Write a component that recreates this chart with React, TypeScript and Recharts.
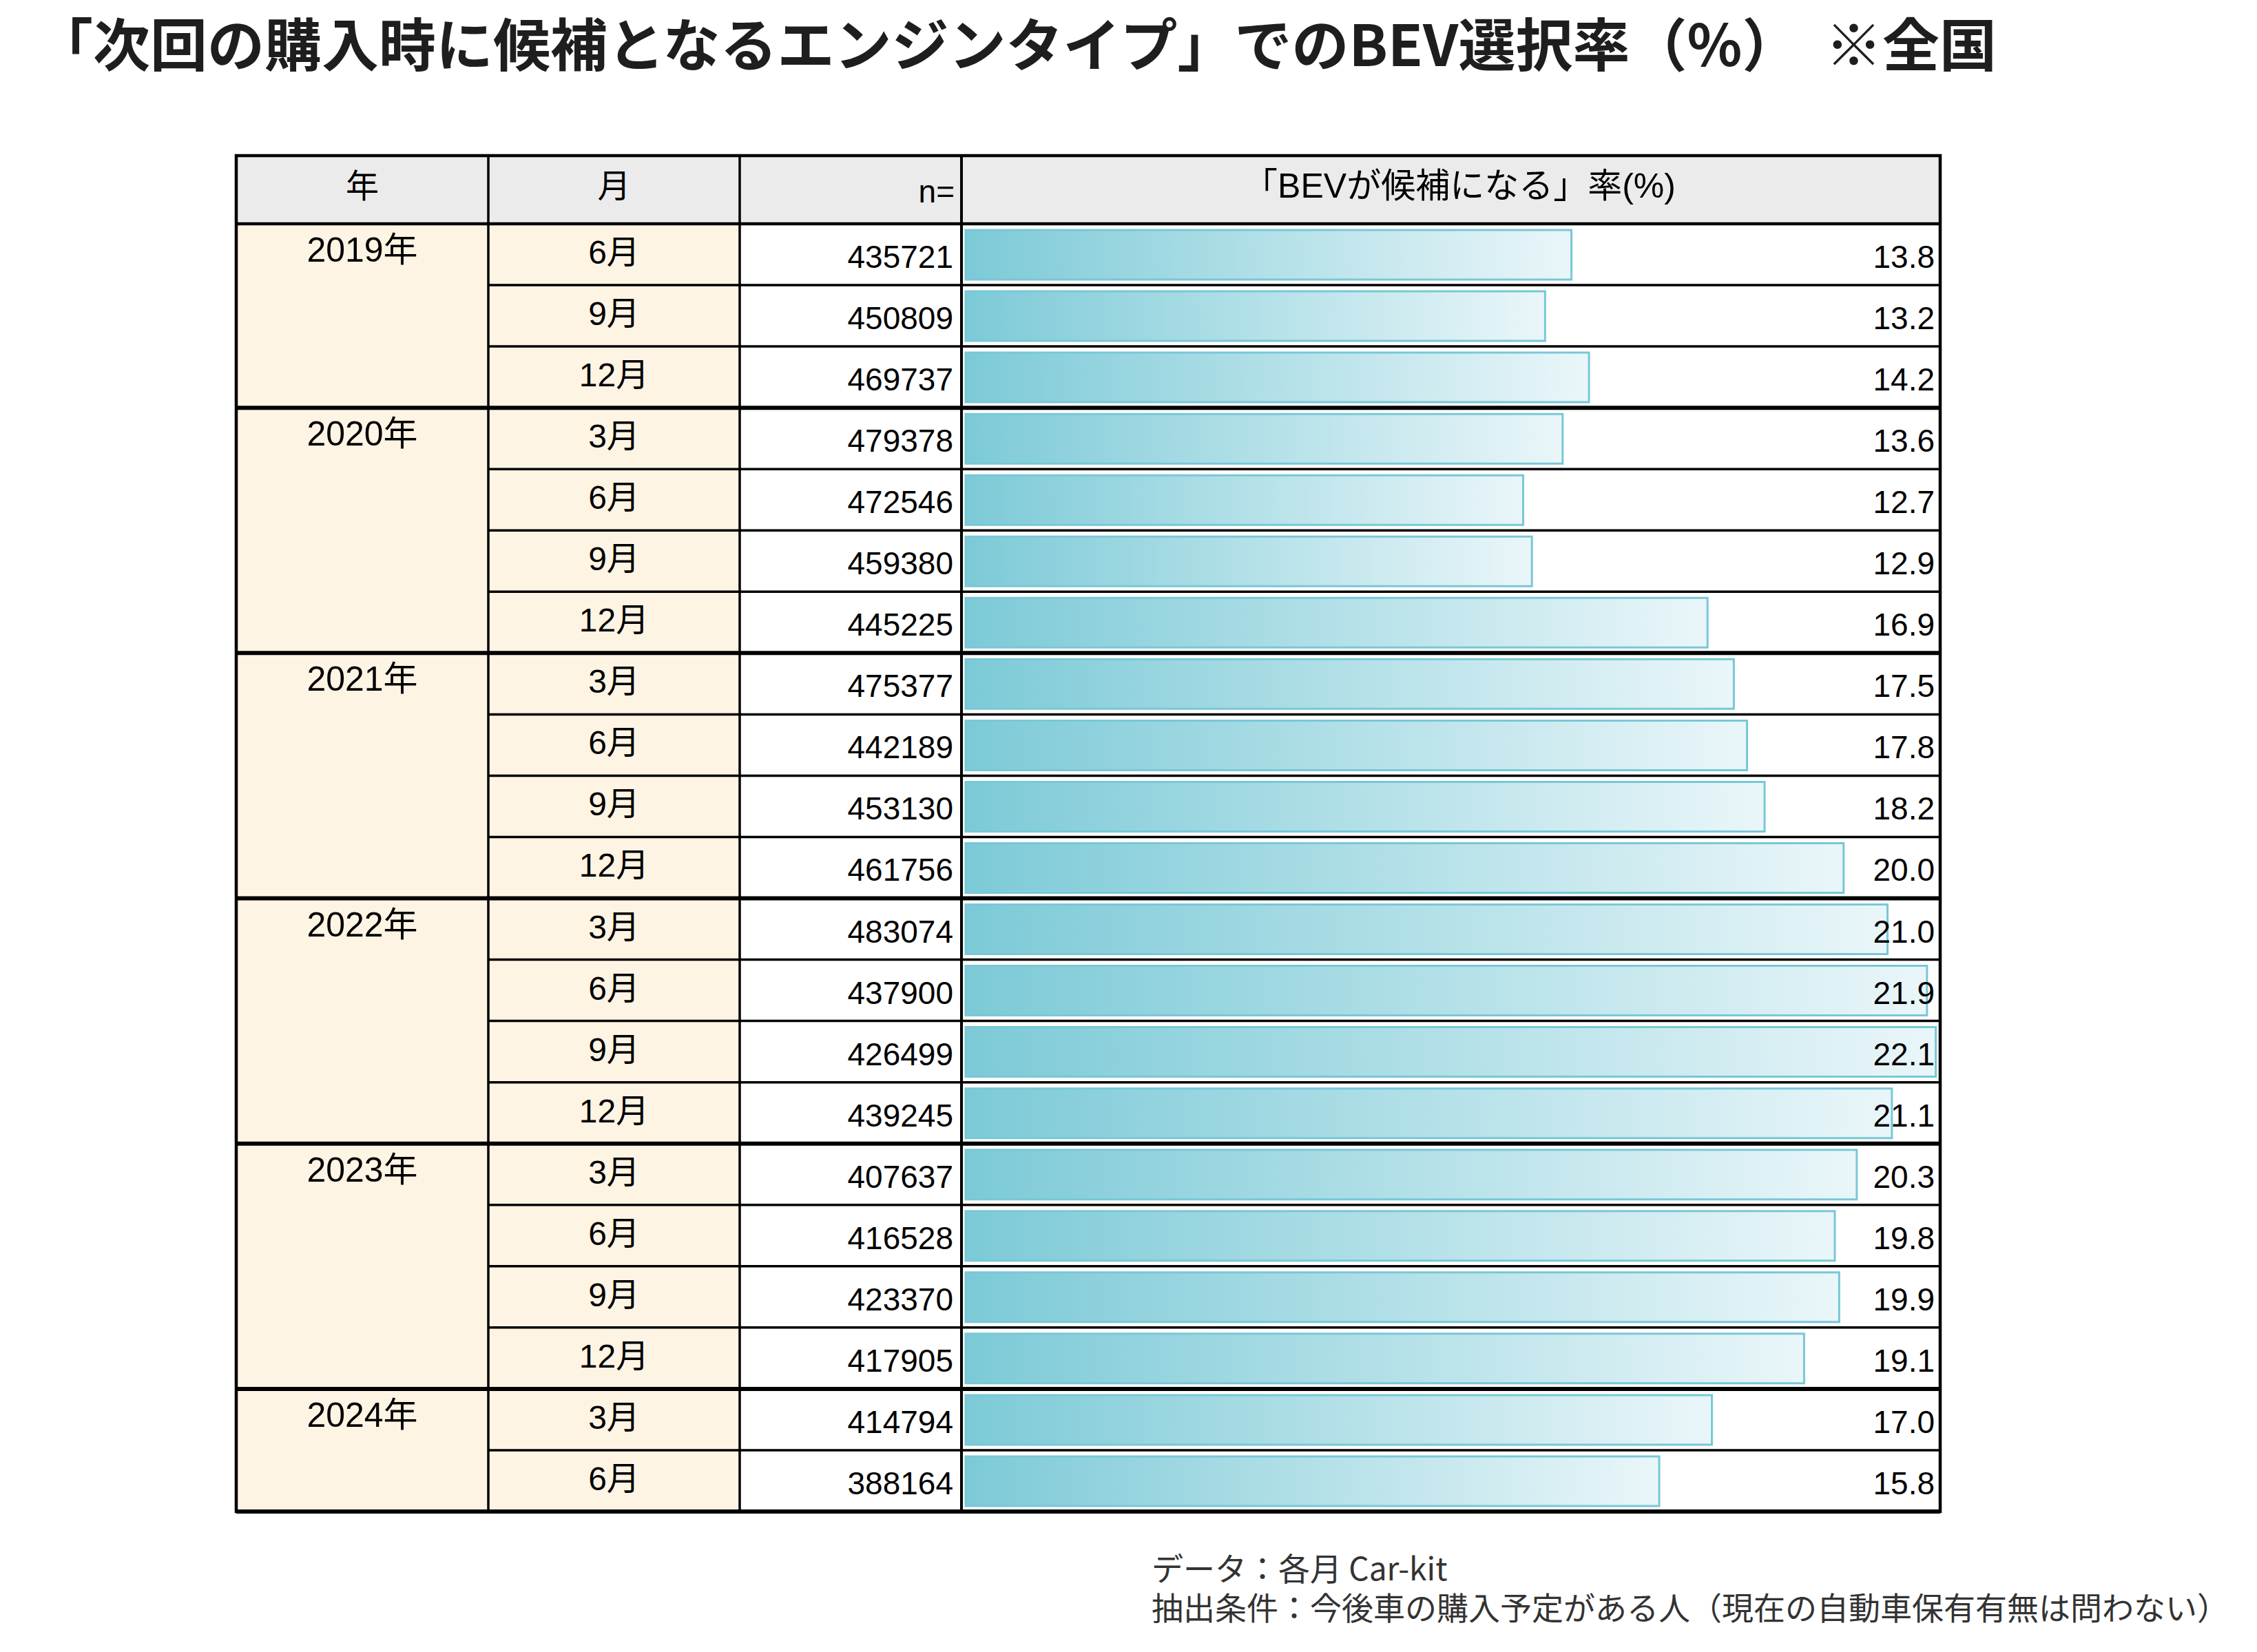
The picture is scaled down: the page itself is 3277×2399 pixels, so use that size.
import React from "react";
import { BarChart, Bar, XAxis, YAxis, LabelList } from "recharts";

const yearLabels = [
  "2019年", "2019年", "2019年",
  "2020年", "2020年", "2020年", "2020年",
  "2021年", "2021年", "2021年", "2021年",
  "2022年", "2022年", "2022年", "2022年",
  "2023年", "2023年", "2023年", "2023年",
  "2024年", "2024年",
];
const monthLabels = [
  "6月", "9月", "12月",
  "3月", "6月", "9月", "12月",
  "3月", "6月", "9月", "12月",
  "3月", "6月", "9月", "12月",
  "3月", "6月", "9月", "12月",
  "3月", "6月",
];
const sampleSizes = [
  435721, 450809, 469737,
  479378, 472546, 459380, 445225,
  475377, 442189, 453130, 461756,
  483074, 437900, 426499, 439245,
  407637, 416528, 423370, 417905,
  414794, 388164,
];
const bevRates = [
  13.8, 13.2, 14.2,
  13.6, 12.7, 12.9, 16.9,
  17.5, 17.8, 18.2, 20.0,
  21.0, 21.9, 22.1, 21.1,
  20.3, 19.8, 19.9, 19.1,
  17.0, 15.8,
];
const headerLabels = ["年", "月", "n=", "「BEVが候補になる」率(%)"];
const titleText = "「次回の購入時に候補となるエンジンタイプ」でのBEV選択率（%）\u00A0 ※全国";
const noteLines = [
  "データ：各月 Car-kit",
  "抽出条件：今後車の購入予定がある人（現在の自動車保有有無は問わない）",
];

const rows = monthLabels.map((m, i) => ({
  key: `${yearLabels[i]}${m}`,
  year: yearLabels[i],
  month: m,
  n: sampleSizes[i],
  rate: bevRates[i],
}));

// page / table geometry
const W = 3277;
const H = 2399;
const LEFT = 343;
const RIGHT = 2817;
const TOP = 226;
const HEAD_B = 325;
const BOTTOM = 2195;
const COL_MONTH = 709;
const COL_N = 1074;
const COL_BAR = 1396;
const PLOT_LEFT = 1402;
const RH = (BOTTOM - HEAD_B) / rows.length;

const CREAM = "#FEF4E4";
const HEAD_BG = "#EBEBEB";
const FONT = "'Liberation Sans', Arial, 'Noto Sans CJK JP', sans-serif";
const JP = "'Noto Sans CJK JP', sans-serif";
const FS = 46;

function RowTick(props: any) {
  const { y, payload } = props;
  const idx = rows.findIndex((r) => r.key === payload.value);
  if (idx < 0) return null;
  const row = rows[idx];
  const top = y - RH / 2;
  const bottom = top + RH;
  const firstOfYear = idx === 0 || rows[idx - 1].year !== row.year;
  const lastOfYear = idx === rows.length - 1 || rows[idx + 1].year !== row.year;
  return (
    <g>
      {firstOfYear && (
        <text x={(LEFT + COL_MONTH) / 2} y={top + 55} textAnchor="middle" fontSize={50} fontFamily={FONT} fill="#000">
          {row.year}
        </text>
      )}
      <text x={(COL_MONTH + COL_N) / 2} y={top + 58} textAnchor="middle" fontSize={48} fontFamily={FONT} fill="#000">
        {row.month}
      </text>
      <text x={COL_BAR - 12} y={top + 64} textAnchor="end" fontSize={FS} fontFamily={FONT} fill="#000">
        {row.n}
      </text>
      {lastOfYear ? (
        <line x1={LEFT} x2={RIGHT} y1={bottom} y2={bottom} stroke="#000" strokeWidth={6} />
      ) : (
        <line x1={COL_MONTH} x2={RIGHT} y1={bottom} y2={bottom} stroke="#000" strokeWidth={3.5} />
      )}
    </g>
  );
}

function ValueLabel(props: any) {
  const { y, height, value } = props;
  return (
    <text x={RIGHT - 8} y={y + height / 2 + 19} textAnchor="end" fontSize={FS} fontFamily={FONT} fill="#000">
      {Number(value).toFixed(1)}
    </text>
  );
}

export default function App() {
  const headerCenters = [(LEFT + COL_MONTH) / 2, (COL_MONTH + COL_N) / 2];
  return (
    <div style={{ position: "absolute", left: 0, top: 0, width: W, height: H, background: "#fff" }}>
      {/* backgrounds, title and notes */}
      <svg width={W} height={H} style={{ position: "absolute", left: 0, top: 0 }}>
        <text x={52} y={96} fontSize={83} fontWeight={700} fontFamily={JP} fill="#1E1E1E">
          {titleText}
        </text>
        <rect x={LEFT} y={TOP} width={RIGHT - LEFT} height={HEAD_B - TOP} fill={HEAD_BG} />
        <rect x={LEFT} y={HEAD_B} width={COL_N - LEFT} height={BOTTOM - HEAD_B} fill={CREAM} />
        <text x={headerCenters[0]} y={287} textAnchor="middle" fontSize={48} fontFamily={FONT} fill="#000">
          {headerLabels[0]}
        </text>
        <text x={headerCenters[1]} y={287} textAnchor="middle" fontSize={48} fontFamily={FONT} fill="#000">
          {headerLabels[1]}
        </text>
        <text x={COL_BAR - 10} y={294} textAnchor="end" fontSize={FS} fontFamily={FONT} fill="#000">
          {headerLabels[2]}
        </text>
        <text x={2119} y={287} textAnchor="middle" fontSize={50} fontFamily={FONT} fill="#000">
          {headerLabels[3]}
        </text>
        {noteLines.map((t, i) => (
          <text key={t} x={1672} y={2295 + i * 57} fontSize={46} fontFamily={JP} fill="#333">
            {t}
          </text>
        ))}
      </svg>

      <div style={{ position: "absolute", left: 0, top: 0 }}>
        <BarChart
          width={W}
          height={H}
          data={rows}
          layout="vertical"
          margin={{ top: HEAD_B, bottom: H - BOTTOM, left: LEFT, right: W - RIGHT }}
        >
          <defs>
            <linearGradient id="bevGrad" x1="0" y1="0" x2="1" y2="0">
              <stop offset="0%" stopColor="#7CCAD7" />
              <stop offset="100%" stopColor="#EAF6F9" />
            </linearGradient>
          </defs>
          <XAxis type="number" domain={[0, 22.2]} hide />
          <YAxis
            type="category"
            dataKey="key"
            width={PLOT_LEFT - LEFT}
            axisLine={false}
            tickLine={false}
            interval={0}
            tick={(p: any) => <RowTick {...p} />}
          />
          <Bar
            dataKey="rate"
            fill="url(#bevGrad)"
            stroke="#78C8D6"
            strokeWidth={3}
            barSize={72}
            isAnimationActive={false}
          >
            <LabelList dataKey="rate" content={(p: any) => <ValueLabel {...p} />} />
          </Bar>
        </BarChart>
      </div>

      {/* table frame */}
      <svg width={W} height={H} style={{ position: "absolute", left: 0, top: 0, pointerEvents: "none" }}>
        <line x1={COL_MONTH} x2={COL_MONTH} y1={TOP} y2={BOTTOM} stroke="#000" strokeWidth={3.5} />
        <line x1={COL_N} x2={COL_N} y1={TOP} y2={BOTTOM} stroke="#000" strokeWidth={3.5} />
        <line x1={COL_BAR} x2={COL_BAR} y1={TOP} y2={BOTTOM} stroke="#000" strokeWidth={4} />
        <line x1={LEFT} x2={RIGHT} y1={HEAD_B} y2={HEAD_B} stroke="#000" strokeWidth={4.5} />
        <rect x={LEFT} y={TOP} width={RIGHT - LEFT} height={BOTTOM - TOP} fill="none" stroke="#000" strokeWidth={4.5} />
      </svg>
    </div>
  );
}
